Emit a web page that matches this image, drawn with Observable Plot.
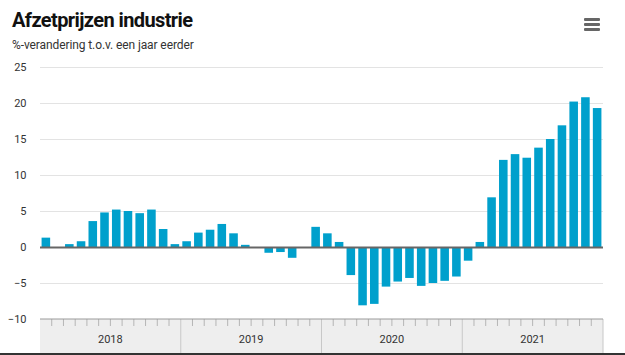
<!DOCTYPE html>
<html>
<head>
<meta charset="utf-8">
<script src="https://cdn.jsdelivr.net/npm/d3@7"></script>
<script src="https://cdn.jsdelivr.net/npm/@observablehq/plot@0.6"></script>
<style>
  html, body { margin: 0; padding: 0; background: #fff; }
  #wrap { position: relative; width: 625px; height: 355px; font-family: Roboto, "Noto Sans", sans-serif; }
  #title { position: absolute; left: 12px; top: 8px; font-size: 20px; font-weight: 700; color: #111; letter-spacing: -0.6px; white-space: nowrap; }
  #subtitle { position: absolute; left: 12px; top: 38px; font-size: 12px; color: #333; letter-spacing: -0.1px; white-space: nowrap; }
  #menu { position: absolute; left: 584px; top: 18px; width: 16px; }
  #menu span { display: block; height: 3px; background: #666; margin-bottom: 2px; border-radius: 1px; }
  #chart { position: absolute; left: 0; top: 0; }
</style>
</head>
<body>
<div id="wrap">
  <div id="chart"></div>
  <div id="title">Afzetprijzen industrie</div>
  <div id="subtitle">%-verandering t.o.v. een jaar eerder</div>
  <div id="menu"><span></span><span></span><span></span></div>
</div>
<script>
const years = ["2018", "2019", "2020", "2021"];
const monthNums = ["01","02","03","04","05","06","07","08","09","10","11","12"];
const values2018 = [1.3, 0.0, 0.4, 0.8, 3.6, 4.8, 5.2, 5.0, 4.7, 5.2, 2.5, 0.4];
const values2019 = [0.8, 2.0, 2.4, 3.2, 1.9, 0.3, 0.0, -0.8, -0.7, -1.5, 0.0, 2.8];
const values2020 = [1.9, 0.7, -3.9, -8.1, -7.9, -5.5, -4.8, -4.3, -5.4, -5.0, -4.7, -4.1];
const values2021 = [-1.9, 0.7, 6.9, 12.1, 12.9, 12.4, 13.8, 15.0, 16.9, 20.2, 20.8, 19.3];
const yTicks = [-10, -5, 0, 5, 10, 15, 20, 25];

const seriesByYear = [values2018, values2019, values2020, values2021];
const data = [];
years.forEach((yr, i) => {
  seriesByYear[i].forEach((v, m) => data.push({key: yr + "-" + monthNums[m], year: yr, value: v}));
});
const keys = data.map(d => d.key);

const plot = Plot.plot({
  width: 625,
  height: 355,
  marginLeft: 40,
  marginRight: 22,
  marginTop: 67,
  marginBottom: 36,
  style: {fontFamily: "Roboto, 'Noto Sans', sans-serif", fontSize: "11px", color: "#333", background: "transparent"},
  x: {type: "band", domain: keys, paddingInner: 0.27, paddingOuter: 0.135, axis: null},
  y: {domain: [-10, 25], ticks: yTicks},
  marks: [
    Plot.gridY(yTicks, {stroke: "#e3e3e3", strokeOpacity: 1, strokeWidth: 1}),
    Plot.axisY(yTicks, {tickSize: 0, tickPadding: 14, fontSize: 11, fill: "#333", label: null}),
    Plot.barY(data, {x: "key", y: "value", fill: "#00a0cc"}),
    Plot.ruleY([0], {stroke: "#666", strokeWidth: 2})
  ]
});
document.getElementById("chart").appendChild(plot);

// Category axis box drawn from the plot's own scales
const xs = plot.scale("x");
const ys = plot.scale("y");
const stepW = xs.step, bw = xs.bandwidth;
const half = (stepW - bw) / 2;
const boxLeft = xs.apply(keys[0]) - half;
const boxRight = xs.apply(keys[keys.length - 1]) + bw + half;
const boxTop = ys.apply(-10);
const boxBottom = 353;
const svg = d3.select(plot);
const g = svg.append("g");
g.append("rect").attr("x", boxLeft).attr("y", boxTop).attr("width", boxRight - boxLeft).attr("height", boxBottom - boxTop).attr("fill", "#eeeeee");
keys.forEach((k, i) => {
  if (i === 0) return;
  const xb = xs.apply(k) - half;
  if (i % 12 === 0) {
    g.append("line").attr("x1", xb).attr("x2", xb).attr("y1", boxTop).attr("y2", boxBottom).attr("stroke", "#c8c8c8");
  } else {
    g.append("line").attr("x1", xb).attr("x2", xb).attr("y1", boxTop).attr("y2", boxTop + 7).attr("stroke", "#b5b5b5");
  }
});
g.append("line").attr("x1", boxRight).attr("x2", boxRight).attr("y1", boxTop).attr("y2", boxBottom).attr("stroke", "#c8c8c8");
g.append("line").attr("x1", boxLeft).attr("x2", boxRight).attr("y1", boxTop).attr("y2", boxTop).attr("stroke", "#9a9a9a");
years.forEach(yr => {
  const a = xs.apply(yr + "-01") - half;
  const b = xs.apply(yr + "-12") + bw + half;
  g.append("text").attr("x", (a + b) / 2).attr("y", 343).attr("text-anchor", "middle")
    .attr("font-size", 11).attr("fill", "#333").text(yr);
});
g.append("line").attr("x1", 0).attr("x2", 625).attr("y1", 354).attr("y2", 354).attr("stroke", "#333").attr("stroke-width", 2);
</script>
</body>
</html>
